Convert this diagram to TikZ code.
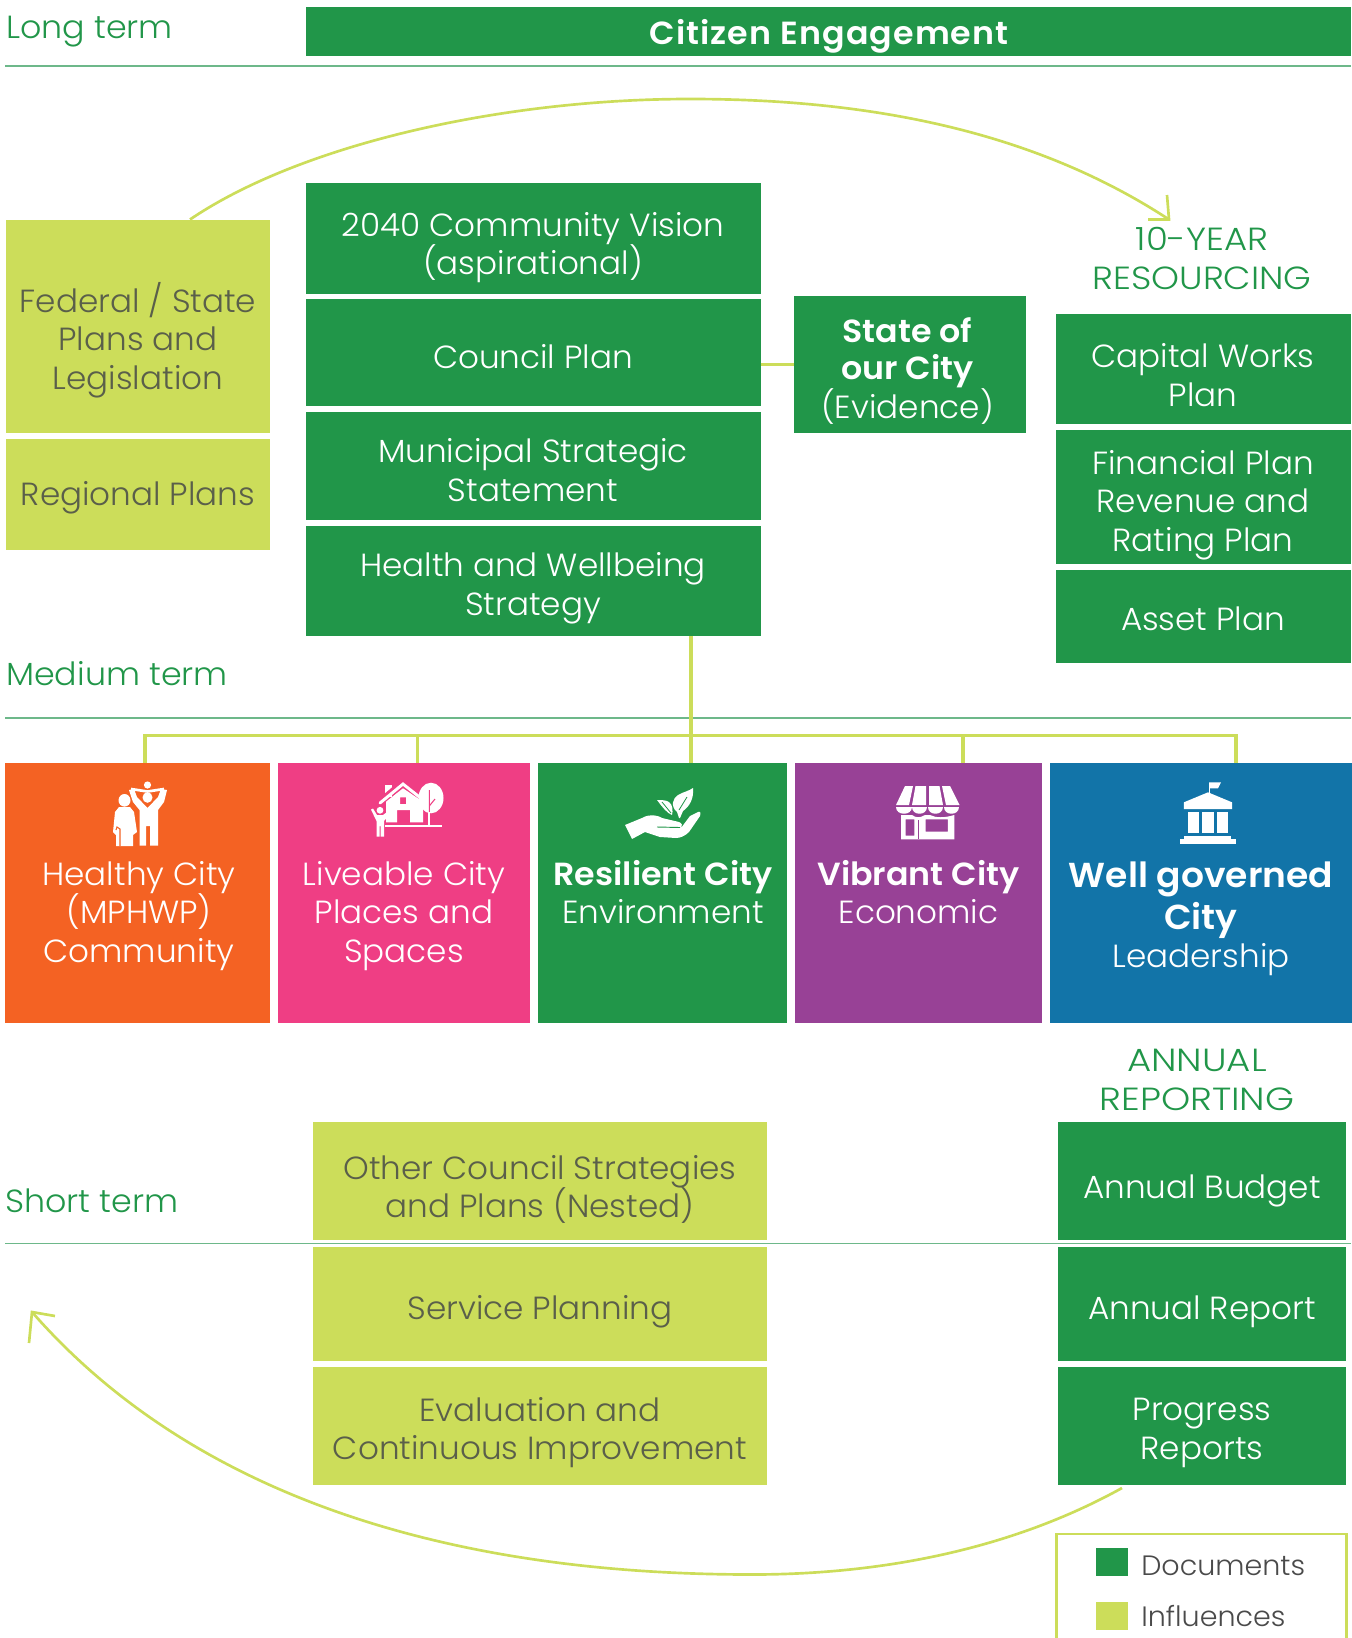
\documentclass[tikz,border=0pt]{standalone}
\usepackage{fontspec}
\setmainfont{Poppins}[UprightFont=* Light,BoldFont=* SemiBold,FakeStretch=1.02,BoldFeatures={FakeStretch=1.04}]
\newfontfamily\engfont{Poppins}[UprightFont=* SemiBold,LetterSpace=3.4,FakeStretch=1.04]
\newfontfamily\termfont{Poppins}[UprightFont=* Light,FakeStretch=1.04]
\newfontfamily\capsA{Poppins}[UprightFont=* Light,FakeStretch=1.11]
\newfontfamily\capsB{Poppins}[UprightFont=* Light,FakeStretch=1.16]
\definecolor{docgreen}{HTML}{219649}
\definecolor{inflime}{HTML}{CCDD5A}
\definecolor{hcorange}{HTML}{F46223}
\definecolor{lcpink}{HTML}{EF3E84}
\definecolor{vcpurple}{HTML}{984196}
\definecolor{wgblue}{HTML}{1274A8}
\definecolor{inftext}{HTML}{5A5F4A}
\definecolor{legtext}{HTML}{4A4A4A}
\definecolor{rulegreen}{HTML}{6DB88A}
\newcommand{\bx}[7]{\node[#6,minimum width={0.75pt*(#4-#2)},minimum height={0.75pt*(#5-#3)}] (#1) at ({(#2+#4)/2},{(#3+#5)/2}) {};}
\begin{document}
\begin{tikzpicture}[x=0.75pt,y=-0.75pt,
  base/.style={inner sep=0,outer sep=0,draw=none},
  doc/.style={base,fill=docgreen},
  infl/.style={base,fill=inflime},
  txt/.style={inner sep=0,align=center,font=\fontsize{24}{28.9}\selectfont},
  wtxt/.style={txt,text=white},
  gtxt/.style={txt,text=inftext},
  htxt/.style={txt,text=docgreen},
  link/.style={draw=inflime,line width=2.6pt},
  sweep/.style={draw=inflime,line width=2pt},
  rulel/.style={draw=rulegreen,line width=0.8pt},
  icon/.style={fill=white,draw=none}]
\useasboundingbox (0,0) rectangle (1352,1638);
% rules
\coordinate (r1a) at (5,66); \coordinate (r1b) at (1351,66);
\coordinate (r2a) at (5,718); \coordinate (r2b) at (1351,718);
\coordinate (r3a) at (5,1243.5); \coordinate (r3b) at (1351,1243.5);
\draw[rulel] (r1a)--(r1b); \draw[rulel] (r2a)--(r2b); \draw[rulel] (r3a)--(r3b);
% headings
\node[htxt,anchor=base west,font=\termfont\fontsize{24}{28.9}\selectfont] (lt) at (6,38) {Long term};
\node[htxt,anchor=base west,font=\termfont\fontsize{24}{28.9}\selectfont] (mt) at (6,685) {Medium term};
\node[htxt,anchor=base west,font=\termfont\fontsize{24}{28.9}\selectfont] (st) at (5,1212) {Short term};
% boxes
\bx{ce}{306}{7}{1351}{56}{doc}{}
\bx{v2040}{306}{183}{760.6}{293.6}{doc}{}
\bx{cp}{306}{299}{760.6}{406}{doc}{}
\bx{mss}{306}{412}{760.6}{520}{doc}{}
\bx{hws}{306}{525.5}{760.6}{636}{doc}{}
\bx{soc}{794}{296}{1026}{432.5}{doc}{}
\bx{cwp}{1056}{313.5}{1351}{424}{doc}{}
\bx{fp}{1056}{429.5}{1351}{564}{doc}{}
\bx{ap}{1056}{569.5}{1351}{662.5}{doc}{}
\bx{fed}{6}{219.5}{270}{432.5}{infl}{}
\bx{reg}{6}{439}{270}{549.6}{infl}{}
\bx{ocs}{313.4}{1122}{767}{1240}{infl}{}
\bx{sp}{313.4}{1246.5}{767}{1361}{infl}{}
\bx{eci}{313.4}{1366.6}{767}{1484.7}{infl}{}
\bx{ab}{1058}{1122}{1345.7}{1240}{doc}{}
\bx{ar}{1058}{1246.5}{1345.7}{1361}{doc}{}
\bx{pr}{1058}{1366.6}{1345.7}{1484.7}{doc}{}
\bx{hc}{5}{763}{270}{1023}{base,fill=hcorange}{}
\bx{lc}{278}{763}{530}{1023}{base,fill=lcpink}{}
\bx{rc}{538}{763}{787}{1023}{doc}{}
\bx{vc}{795}{763}{1042}{1023}{base,fill=vcpurple}{}
\bx{wc}{1050}{763}{1354}{1023}{base,fill=wgblue}{}
% connectors
\coordinate (hub) at (691,735.5);
\coordinate (hwsb) at (691,636);
\coordinate (hl) at (145,735.5); \coordinate (hr) at (1236,735.5);
\draw[link] (hwsb)--(hub);
\draw[link,line cap=rect] (hl)--(hr);
\draw[link] (hl)--(145,763);
\draw[link] (417.6,735.5)--(417.6,763);
\draw[link] (hub)--(691,763);
\draw[link] (963,735.5)--(963,763);
\draw[link] (hr)--(1236,763);
\draw[link] (cp.east |- soc.west)--(soc.west);
% sweeps
\coordinate (ts) at (190,219.5); \coordinate (tm) at (690,99); \coordinate (te) at (1169,219.5);
\coordinate (ta) at (1148,219.5); \coordinate (tb) at (1167,195);
\draw[sweep] (ts) .. controls (300,145) and (500,99) .. (tm) .. controls (880,99) and (1040,135) .. (te);
\draw[sweep] (ta)--(te)--(tb);
\coordinate (bs) at (1122,1488); \coordinate (bm) at (752,1574.5); \coordinate (be) at (32,1312);
\coordinate (ba) at (55,1316); \coordinate (bb) at (29,1343);
\draw[sweep] (bs) .. controls (1010,1550) and (880,1574.5) .. (bm) .. controls (400,1574.5) and (170,1470) .. (be);
\draw[sweep] (ba)--(be)--(bb);
% box texts
\node[wtxt,font=\engfont\fontsize{24}{28.9}\selectfont] at (829,36) {Citizen Engagement};
\node[wtxt] at (533,247.5) {2040 Community Vision\\(aspirational)};
\node[wtxt] at (533,357) {Council Plan};
\node[wtxt] at (533,470) {Municipal Strategic\\Statement};
\node[wtxt] at (533,588) {Health and Wellbeing\\Strategy};
\node[wtxt] at (907.5,371) {\textbf{State of}\\[-1pt]\textbf{our City}\\(Evidence)};
\node[htxt,font=\capsA\fontsize{24}{28.9}\selectfont] at (1202,258.5) {10-YEAR\\RESOURCING};
\node[wtxt] at (1203,375) {Capital Works\\Plan};
\node[wtxt] at (1203,505) {Financial Plan\\Revenue and\\Rating Plan};
\node[wtxt] at (1203,619) {Asset Plan};
\node[gtxt] at (138,340) {Federal / State\\Plans and\\Legislation};
\node[gtxt] at (138,498) {Regional Plans};
\node[gtxt] at (540,1189.5) {Other Council Strategies\\and Plans (Nested)};
\node[gtxt] at (540,1312) {Service Planning};
\node[gtxt] at (540,1432.5) {Evaluation and\\Continuous Improvement};
\node[htxt,font=\capsB\fontsize{24}{28.9}\selectfont] at (1197,1080) {ANNUAL\\REPORTING};
\node[wtxt] at (1202,1191) {Annual Budget};
\node[wtxt] at (1202,1312) {Annual Report};
\node[wtxt] at (1202,1433) {Progress\\Reports};
\node[wtxt] at (139,916) {Healthy City\\(MPHWP)\\Community};
\node[wtxt] at (404,916) {Liveable City\\Places and\\Spaces};
\node[wtxt] at (663,892) {\textbf{Resilient City}\\Environment};
\node[wtxt] at (918.5,892) {\textbf{Vibrant City}\\Economic};
\node[wtxt] at (1201,919) {{\fontsize{26}{31.4}\selectfont\textbf{Well governed}}\\[2pt]{\fontsize{26}{31.4}\selectfont\textbf{City}}\\[0pt]Leadership};
% legend
\coordinate (la) at (1056.7,1640); \coordinate (lb) at (1056.7,1534); \coordinate (lc) at (1346.7,1534); \coordinate (ld) at (1346.7,1640);
\draw[sweep] (la)--(lb)--(lc)--(ld);
\bx{ldoc}{1096}{1548}{1128}{1576}{doc}{}
\bx{linf}{1096}{1602}{1128}{1630}{infl}{}
\node[txt,text=legtext,anchor=base west,font=\fontsize{21}{25}\selectfont] (tdoc) at (1141,1575) {Documents};
\node[txt,text=legtext,anchor=base west,font=\fontsize{21}{25}\selectfont] (tinf) at (1141,1626) {Influences};
% icon: family
\fill[icon] (124.5,800.3) ellipse [x radius=6,y radius=6.3];
\fill[icon] (119,807)--(130,807)--(134,812)--(137,832)--(133,835)--(133,846)--(116,846)--(116,835)--(113,832)--(115,812)--cycle;
\draw[hcorange,line width=0.8pt] (120,846)--(120,829)--(117,827)--(116,830);
\fill[icon] (129,790)--(134,789)--(137,797)--(147.5,808)--(158,797)--(161,789)--(167,790)--(164,802)--(158,810)--(158,845.7)--(150,845.7)--(150,826)--(146,826)--(146,845.7)--(139.5,845.7)--(139.5,810)--(133,802)--cycle;
\fill[icon] (147.5,797.5) ellipse [x radius=5,y radius=5.3];
\fill[icon] (147.5,785) circle (3.6);
\draw[white,line width=2pt] (131,789)--(147.5,791.5)--(164,789);
% icon: house
\fill[icon] (385,785) rectangle (392,797);
\fill[icon,even odd rule] (386,801.7)--(403,788.3)--(423,801.7)--(423,822.3)--(410,822.3)--(410,810)--(397,810)--(397,822.3)--(386,822.3)--cycle (400,797.3) rectangle (406,804);
\draw[lcpink,line width=3.4pt] (376,804)--(403,781)--(431,804);
\draw[white,line width=2.2pt,line cap=round] (380,803)--(403,784)--(427,803);
\fill[icon] (431,798) ellipse [x radius=12.5,y radius=15.3];
\draw[lcpink,line width=0.8pt] (429.3,790)--(429.3,813) (429.3,806)--(435,799);
\fill[icon] (428.3,812) rectangle (430.3,826);
\fill[icon] (385,825) rectangle (441.5,827.3);
\fill[icon] (380,810.3) circle (3.4);
\fill[icon] (371,809.5)--(373,808.5)--(377,815)--(383,815)--(387,812)--(388,808.5)--(390.5,809)--(390,814)--(384,821)--(384,836.7)--(380.7,836.7)--(380.7,826)--(379.7,826)--(379.7,836.7)--(376.5,836.7)--(376.5,821)--cycle;
% icon: hand and leaves
\fill[icon] (625,825) -- (642,818) .. controls (646,815) and (656,814) .. (662,818) -- (679,822) .. controls (682,823) and (683,826) .. (681,828) -- (690,816) -- (698,812) .. controls (701,811) and (701,814) .. (700,816) -- (689,832) .. controls (685,836) and (680,838) .. (676,838) -- (660,837) -- (645,832) -- (632,839) -- cycle;
\draw[docgreen,line width=0.7pt] (657,827) -- (680,827.5);
\fill[icon] (679,818) -- (677,812) .. controls (670,806) and (673,798) .. (678,795) .. controls (683,792) and (689,791) .. (693,788) .. controls (694,798) and (690,806) .. (683,811) -- (680,818) -- cycle;
\fill[icon] (672,815) .. controls (667,813) and (663,808) .. (657,800) .. controls (661,800) and (666,800) .. (669,802) .. controls (673,805) and (673,811) .. (672,815) -- cycle;
\draw[docgreen,line width=0.6pt] (679,810)--(687,797) (671,813)--(662,802);
% icon: shop
\fill[icon] (905,786)--(913,786)--(909,805)--(896,805)--cycle;
\fill[icon] (915.5,786)--(926,786)--(926,805)--(912,805)--cycle;
\fill[icon] (929,786)--(939.5,786)--(943,805)--(929,805)--cycle;
\fill[icon] (942,786)--(950,786)--(959.5,805)--(946,805)--cycle;
\foreach \i in {0,1,2,3}{\fill[icon] ({896+\i*15.9+0.4},806.5) .. controls ({896+\i*15.9+0.4},816) and ({896+\i*15.9+15.5},816) .. ({896+\i*15.9+15.5},806.5) -- cycle;}
\fill[icon,even odd rule] (901,815) -- (912,815) .. controls (916,818) and (920,818) .. (925,815) -- (930,815) .. controls (936,818) and (944,818) .. (954.3,815) -- (954.3,839.3) -- (901,839.3) -- cycle (905.7,819.3) rectangle (914.3,835.7) (925.5,819.3) rectangle (947.8,831.7);
\draw[vcpurple,line width=0.9pt] (918.5,820)--(918.5,839.3);
% icon: civic building
\fill[icon] (1208.7,782.5) rectangle (1210.2,793);
\fill[icon] (1209,782.3)--(1221,782.3)--(1218,788.3)--(1209,788.3)--cycle;
\fill[icon] (1183.9,802.3)--(1208,792.3)--(1232,802.3)--(1232,809)--(1183.9,809)--cycle;
\fill[icon] (1188,811.7) rectangle (1199.4,832.7);
\fill[icon] (1202.4,811.7) rectangle (1214,832.7);
\fill[icon] (1216.5,811.7) rectangle (1228,832.7);
\fill[icon] (1184,836) rectangle (1231,840);
\fill[icon] (1180,839.3) rectangle (1235.5,843.7);
\end{tikzpicture}
\end{document}
